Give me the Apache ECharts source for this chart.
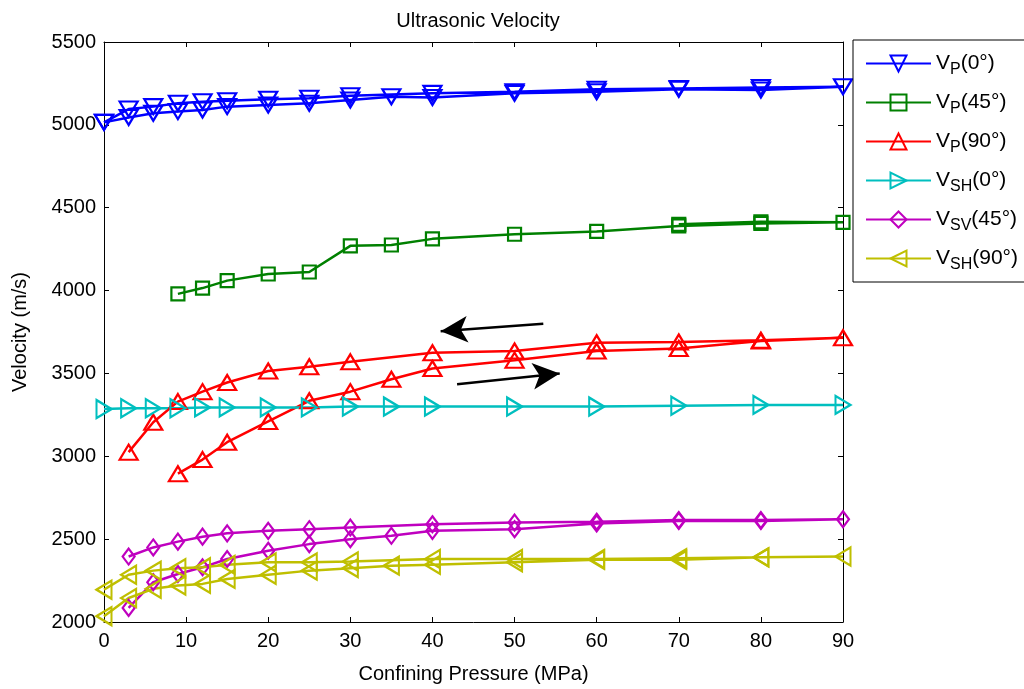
<!DOCTYPE html>
<html>
<head>
<meta charset="utf-8">
<title>Ultrasonic Velocity</title>
<script src="https://cdn.jsdelivr.net/npm/echarts@6/dist/echarts.min.js"></script>
<style>
  html, body { margin: 0; padding: 0; background: #fff; }
  #main { width: 1024px; height: 689px; }
</style>
</head>
<body>
<div id="main"></div>
<script>
// 围压 (MPa) - 加载 / 卸载
var pLoad0 = [0, 3, 6, 9, 12, 15, 20, 25, 30, 35, 40, 50, 60, 70, 80, 90];
var pLoad3 = [3, 6, 9, 12, 15, 20, 25, 30, 35, 40, 50, 60, 70, 80, 90];
var pLoad9 = [9, 12, 15, 20, 25, 30, 35, 40, 50, 60, 70, 80, 90];
var pUnload0 = [80, 70, 60, 50, 40, 30, 25, 20, 15, 12, 9, 6, 3, 0];
var pUnload3 = [80, 70, 60, 50, 40, 30, 25, 20, 15, 12, 9, 6, 3];
var pUnload70 = [80, 70];

// 波速 (m/s)
var vp0Load = [5015, 5045, 5070, 5080, 5090, 5110, 5120, 5130, 5150, 5170, 5165, 5190, 5200, 5215, 5210, 5230];
var vp0Unload = [5225, 5220, 5215, 5200, 5190, 5175, 5160, 5155, 5145, 5140, 5130, 5110, 5095, 5015];

var vp45Load = [3980, 4015, 4060, 4100, 4112, 4270, 4275, 4312, 4340, 4357, 4390, 4405, 4412];
var vp45Unload = [4415, 4400];

var vp90Load = [2895, 2980, 3085, 3210, 3335, 3390, 3465, 3530, 3580, 3635, 3650, 3695, 3715];
var vp90Unload = [3700, 3690, 3685, 3635, 3625, 3570, 3540, 3515, 3445, 3390, 3330, 3205, 3025];

var vsh0Load = [3285, 3290, 3290, 3290, 3295, 3295, 3295, 3295, 3300, 3300, 3300, 3300, 3300, 3305, 3310, 3310];

var vsv45Load = [2085, 2240, 2290, 2330, 2380, 2430, 2470, 2500, 2520, 2550, 2560, 2595, 2610, 2610, 2620];
var vsv45Unload = [2615, 2615, 2605, 2600, 2590, 2570, 2560, 2550, 2535, 2515, 2485, 2450, 2395];

var vsh90Load = [2035, 2145, 2200, 2220, 2230, 2260, 2285, 2310, 2325, 2340, 2345, 2360, 2375, 2375, 2390, 2395];
var vsh90Unload = [2390, 2385, 2380, 2380, 2380, 2365, 2360, 2360, 2345, 2330, 2325, 2310, 2285, 2195];

// 箭头 (加载 / 卸载方向)
var arrowUnload = [[53.5, 3800], [41, 3755]];
var arrowLoad = [[43, 3435], [55.5, 3500]];

// 图例
var legNames = ['VP(0°)', 'VP(45°)', 'VP(90°)', 'VSH(0°)', 'VSV(45°)', 'VSH(90°)'];
var legSub = ['P', 'P', 'P', 'SH', 'SV', 'SH'];
var legAngle = ['(0°)', '(45°)', '(90°)', '(0°)', '(45°)', '(90°)'];

var xTicks = [0, 90, 10];
var yTicks = [2000, 5500, 500];

function pairs(px, vy) {
    var out = [];
    for (var i = 0; i < px.length; i++) out.push([px[i], vy[i]]);
    return out;
}

var FONT = 'Liberation Sans, Arial, sans-serif';

function mkSeries(name, color, symbol, rotate, size, data) {
    return {
        name: name,
        type: 'line',
        data: data,
        symbol: symbol,
        symbolRotate: rotate,
        symbolSize: size,
        color: color,
        lineStyle: { color: color, width: 2.5 },
        itemStyle: { color: 'rgba(255,255,255,0)', borderColor: color, borderWidth: 2.2 },
        emphasis: { disabled: true },
        animation: false,
        z: 3
    };
}

var series = [
    mkSeries(legNames[0], '#0000ff', 'triangle', 180, [18, 15], pairs(pLoad0, vp0Load).concat(pairs(pUnload0, vp0Unload))),
    mkSeries(legNames[1], '#008000', 'rect', 0, [13, 13], pairs(pLoad9, vp45Load).concat(pairs(pUnload70, vp45Unload))),
    mkSeries(legNames[2], '#ff0000', 'triangle', 0, [18, 15], pairs(pLoad9, vp90Load).concat(pairs(pUnload3, vp90Unload))),
    mkSeries(legNames[3], '#00bfbf', 'triangle', -90, [18, 15], pairs(pLoad0, vsh0Load)),
    mkSeries(legNames[4], '#bf00bf', 'diamond', 0, [12, 16], pairs(pLoad3, vsv45Load).concat(pairs(pUnload3, vsv45Unload))),
    mkSeries(legNames[5], '#bfbf00', 'triangle', 90, [18, 15], pairs(pLoad0, vsh90Load).concat(pairs(pUnload0, vsh90Unload)))
];

// 箭头挂在红线上
series[2].markLine = {
    silent: true,
    animation: false,
    symbol: ['none', 'arrow'],
    symbolSize: [20, 27],
    label: { show: false },
    lineStyle: { color: '#000', width: 2.5, type: 'solid' },
    data: [
        [{ coord: arrowUnload[0] }, { coord: arrowUnload[1] }],
        [{ coord: arrowLoad[0] }, { coord: arrowLoad[1] }]
    ]
};

var axisLine = { show: true, onZero: false, lineStyle: { color: '#000', width: 1 } };
var tick = { show: true, inside: true, length: 5, lineStyle: { color: '#000' } };

var option = {
    backgroundColor: '#fff',
    animation: false,
    title: {
        text: 'Ultrasonic Velocity',
        left: 473,
        top: 6,
        textAlign: 'center',
        textStyle: { fontFamily: FONT, fontSize: 20, fontWeight: 'normal', color: '#000' }
    },
    grid: { left: 104, right: 181, top: 42, bottom: 65 },
    legend: {
        orient: 'vertical',
        left: 853,
        top: 40,
        data: legNames,
        itemWidth: 65,
        itemHeight: 20,
        itemGap: 14,
        padding: [13, 12, 9, 12],
        borderColor: '#000',
        borderWidth: 1,
        backgroundColor: '#fff',
        formatter: function (name) {
            var i = legNames.indexOf(name);
            return '{n|V}{s|' + legSub[i] + '}{n|' + legAngle[i] + '}';
        },
        textStyle: {
            fontFamily: FONT,
            color: '#000',
            rich: {
                n: { fontFamily: FONT, fontSize: 21, color: '#000' },
                s: { fontFamily: FONT, fontSize: 16, color: '#000', verticalAlign: 'top', padding: [13, 0, 0, 0] }
            }
        }
    },
    xAxis: [{
        type: 'value',
        min: xTicks[0], max: xTicks[1], interval: xTicks[2],
        name: 'Confining Pressure (MPa)',
        nameLocation: 'middle',
        nameGap: 42,
        nameTextStyle: { fontFamily: FONT, fontSize: 20, color: '#000' },
        axisLine: axisLine,
        axisTick: tick,
        axisLabel: { fontFamily: FONT, fontSize: 20, color: '#000', margin: 9 },
        splitLine: { show: false }
    }, {
        type: 'value',
        position: 'top',
        min: xTicks[0], max: xTicks[1], interval: xTicks[2],
        axisLine: axisLine,
        axisTick: tick,
        axisLabel: { show: false },
        splitLine: { show: false }
    }],
    yAxis: [{
        type: 'value',
        min: yTicks[0], max: yTicks[1], interval: yTicks[2],
        name: 'Velocity (m/s)',
        nameLocation: 'middle',
        nameGap: 74,
        nameTextStyle: { fontFamily: FONT, fontSize: 20, color: '#000' },
        axisLine: axisLine,
        axisTick: tick,
        axisLabel: {
            fontFamily: FONT, fontSize: 20, color: '#000', margin: 8,
            formatter: function (v) { return String(v); }
        },
        splitLine: { show: false }
    }, {
        type: 'value',
        position: 'right',
        min: yTicks[0], max: yTicks[1], interval: yTicks[2],
        axisLine: axisLine,
        axisTick: tick,
        axisLabel: { show: false },
        splitLine: { show: false }
    }],
    series: series
};

var chart = echarts.init(document.getElementById('main'));
chart.setOption(option);
</script>
</body>
</html>
